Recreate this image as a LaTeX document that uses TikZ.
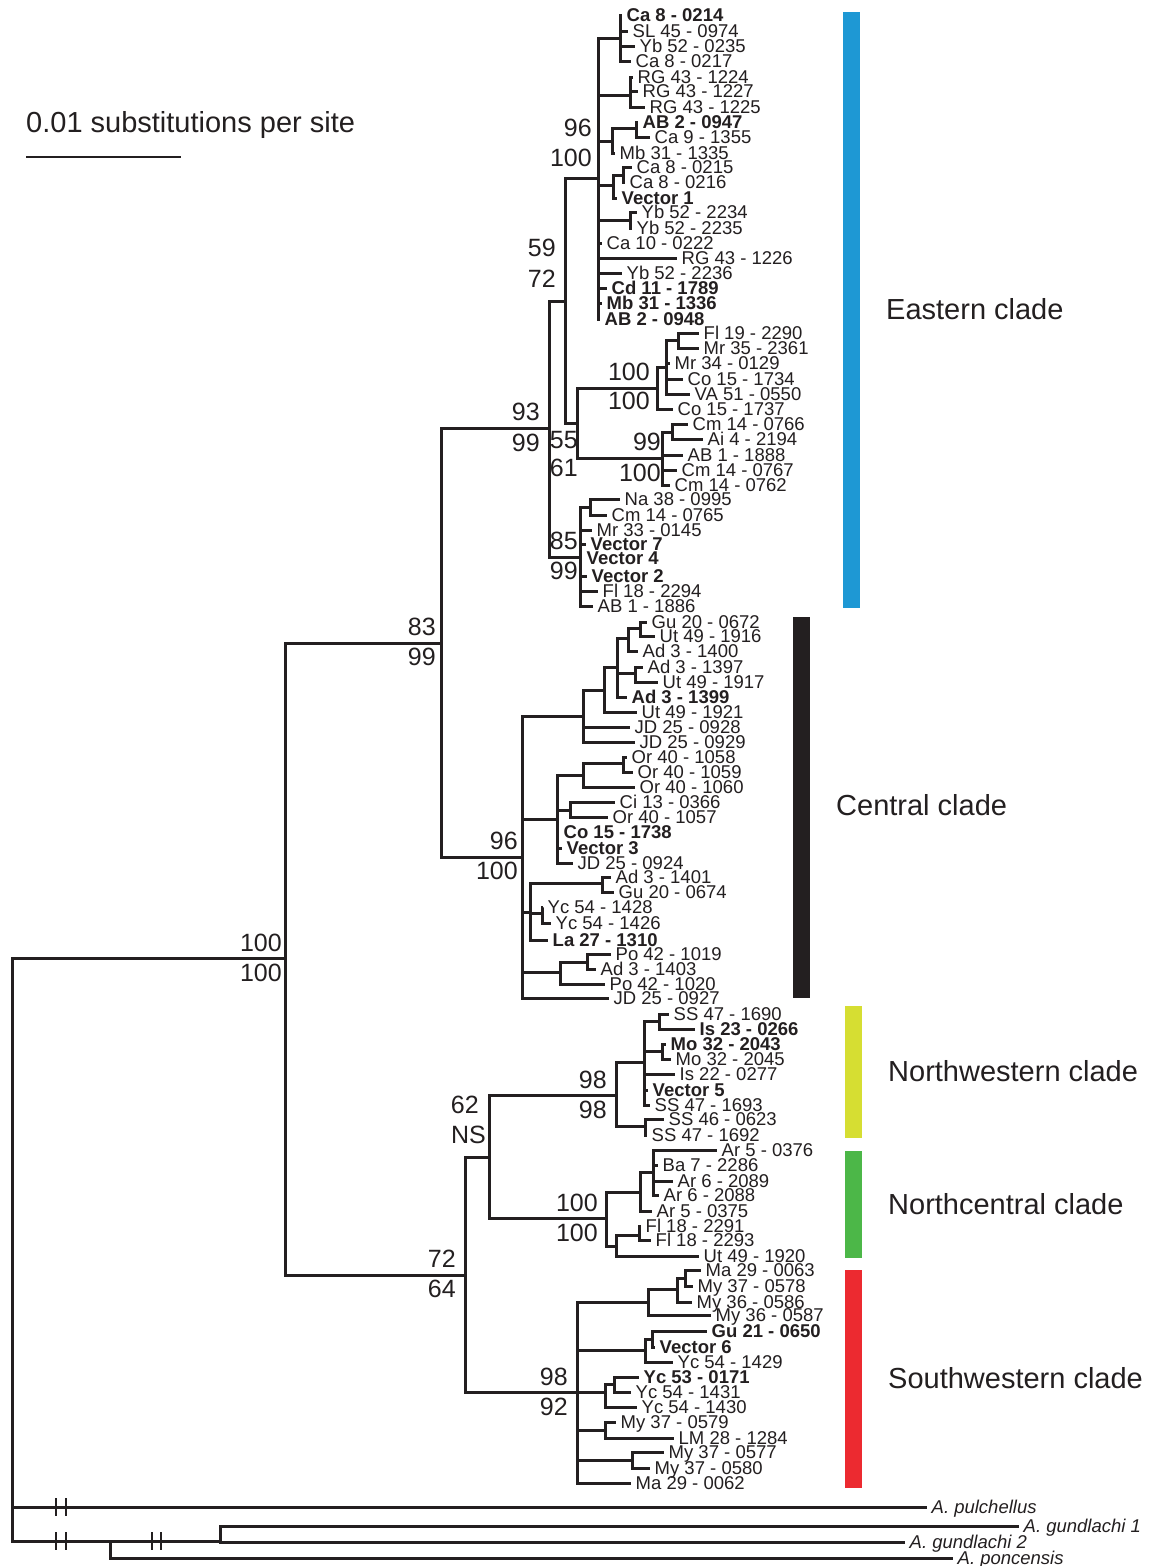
\documentclass[tikz,border=0pt]{standalone}
\usepackage{fontspec}
\setmainfont{Liberation Sans}
\usetikzlibrary{positioning}

\definecolor{treeink}{RGB}{35,31,32}
\definecolor{eastblue}{RGB}{30,152,212}
\definecolor{nwyellow}{RGB}{214,222,50}
\definecolor{ncgreen}{RGB}{76,183,72}
\definecolor{swred}{RGB}{236,42,48}

\newcommand{\leaffont}{\fontsize{18.5}{20}\selectfont}
\newcommand{\bootfont}{\fontsize{25}{27}\selectfont}
\newcommand{\cladefont}{\fontsize{29}{31}\selectfont}

\begin{document}
\begin{tikzpicture}[
        x=1pt, y=-1pt,
        branch/.style={draw=treeink, line width=3pt},
        leaf/.style={anchor=west, inner xsep=4.5pt, inner ysep=0pt, text height=13.2pt, text depth=0pt, font=\leaffont, text=treeink},
        outgrp/.style={leaf, font=\leaffont\itshape},
        boot/.style={anchor=east, inner sep=0pt, text height=17.9pt, text depth=0pt, font=\bootfont, text=treeink},
        clade/.style={anchor=west, inner sep=0pt, text height=20.8pt, text depth=0pt, font=\cladefont, text=treeink},
        brk/.style={draw=treeink, line width=2.6pt},
        scalebar/.style={draw=treeink, line width=2pt}
    ]
    \useasboundingbox (0,0) rectangle (1150,1566);
    \fill[white] (0,0) rectangle (1150,1566);

    % scale
    \node[clade, text height=21pt] (scalelbl) at (26,122) {0.01 substitutions per site};
    \coordinate (sbl) at (26,157);
    \coordinate (sbr) at (181,157);
    \draw[scalebar] (sbl) -- (sbr);

    % clade bars
    \fill[eastblue] (843,12) rectangle (860,608);
    \fill[treeink] (793,617) rectangle (810,998);
    \fill[nwyellow] (845,1006) rectangle (862,1138);
    \fill[ncgreen] (845,1151) rectangle (862,1258);
    \fill[swred] (845,1270) rectangle (862,1488);

    \node[clade] (eastlbl) at (886,309) {Eastern clade};
    \node[clade] (centlbl) at (836,805) {Central clade};
    \node[clade] (nwlbl) at (888,1071) {Northwestern clade};
    \node[clade] (nclbl) at (888,1204) {Northcentral clade};
    \node[clade] (swlbl) at (888,1378) {Southwestern clade};

    % internal nodes
    \foreach \n/\x/\y in {root/12/1250, ingrp/285/958, n83/441/643, n93/549/428, n59/565/301,
        ep/598/178, ea/620/38, eb/630/95, ec/612/141, ed/636/128, ee/613/185, ef/623/175, eg/630/220,
        n55/577/423, eh100/657/388, ei/666/367, ej/678/340, e99/662/458, ek/672/432, n85/580/557, el/590/507,
        cen/522/857, ca/583/716, cb/604/690, cc/617/667, cd/628/638, cf/640/628, ce/635/673,
        cg/557/819, ch/583/775, cj/623/763, ci/570/810, ck/530/912, cl/602/883, cm/542/913, cn/560/972, co/587/962,
        n72/465/1275, n62/489/1157, nw98/616/1095, wa/644/1062, wb/659/1021, wc/662/1051, wd/645/1126,
        nc100/606/1218, na/640/1192, nb/653/1172, nd/616/1246, ne/639/1235,
        sw98/577/1392, sa/648/1302, sb/677/1289, sc/685/1278, sd/645/1350, se/652/1339,
        sf/605/1392, sg/614/1384, sh/605/1430, si/632/1460, og/110/1541, oh/220/1541}
        \coordinate (\n) at (\x,\y);

    % leaves
    \foreach \n/\x/\y/\lbl in {
        e1/622/15/{\textbf{Ca 8 - 0214}}, e2/628/31/SL 45 - 0974, e3/635/46/Yb 52 - 0235, e4/631/61/Ca 8 - 0217,
        e5/633/77/RG 43 - 1224, e6/638/91/RG 43 - 1227, e7/645/107/RG 43 - 1225, e8/638/122/{\textbf{AB 2 - 0947}},
        e9/650/137/Ca 9 - 1355, e10/615/153/Mb 31 - 1335, e11/632/167/Ca 8 - 0215, e12/625/182/Ca 8 - 0216,
        e13/617/198/{\textbf{Vector 1}}, e14/637/212/Yb 52 - 2234, e15/632/228/Yb 52 - 2235, e16/602/243/Ca 10 - 0222,
        e17/677/258/RG 43 - 1226, e18/622/273/Yb 52 - 2236, e19/607/288/{\textbf{Cd 11 - 1789}},
        e20/602/303/{\textbf{Mb 31 - 1336}}, e21/600/319/{\textbf{AB 2 - 0948}}, e22/699/333/Fl 19 - 2290,
        e23/699/348/Mr 35 - 2361, e24/670/363/Mr 34 - 0129, e25/683/379/Co 15 - 1734, e26/690/394/VA 51 - 0550,
        e27/673/409/Co 15 - 1737, e28/688/424/Cm 14 - 0766, e29/703/439/Ai 4 - 2194, e30/683/455/AB 1 - 1888,
        e31/677/470/Cm 14 - 0767, e32/670/485/Cm 14 - 0762, e33/620/499/Na 38 - 0995, e34/607/515/Cm 14 - 0765,
        e35/592/530/Mr 33 - 0145, e36/586/544/{\textbf{Vector 7}}, e37/582/558/{\textbf{Vector 4}},
        e38/587/576/{\textbf{Vector 2}}, e39/598/591/Fl 18 - 2294, e40/593/606/AB 1 - 1886,
        c1/647/622/Gu 20 - 0672, c2/655/636/Ut 49 - 1916, c3/638/651/Ad 3 - 1400, c4/643/667/Ad 3 - 1397,
        c5/658/682/Ut 49 - 1917, c6/627/697/{\textbf{Ad 3 - 1399}}, c7/637/712/Ut 49 - 1921, c8/630/727/JD 25 - 0928,
        c9/635/742/JD 25 - 0929, c10/627/757/Or 40 - 1058, c11/633/772/Or 40 - 1059, c12/635/787/Or 40 - 1060,
        c13/615/802/Ci 13 - 0366, c14/608/817/Or 40 - 1057, c15/559/832/{\textbf{Co 15 - 1738}},
        c16/562/848/{\textbf{Vector 3}}, c17/573/863/JD 25 - 0924, c18/611/877/Ad 3 - 1401, c19/614/892/Gu 20 - 0674,
        c20/543/907/Yc 54 - 1428, c21/551/923/Yc 54 - 1426, c22/548/940/{\textbf{La 27 - 1310}},
        c23/611/954/Po 42 - 1019, c24/596/969/Ad 3 - 1403, c25/605/984/Po 42 - 1020, c26/609/998/JD 25 - 0927,
        w1/669/1014/SS 47 - 1690, w2/695/1029/{\textbf{Is 23 - 0266}}, w3/666/1044/{\textbf{Mo 32 - 2043}},
        w4/671/1059/Mo 32 - 2045, w5/675/1074/Is 22 - 0277, w6/648/1090/{\textbf{Vector 5}}, w7/650/1105/SS 47 - 1693,
        w8/664/1119/SS 46 - 0623, w9/647/1135/SS 47 - 1692,
        n1/717/1150/Ar 5 - 0376, n2/658/1165/Ba 7 - 2286, n3/673/1181/Ar 6 - 2089, n4/659/1195/Ar 6 - 2088,
        n5/652/1211/Ar 5 - 0375, n6/641/1226/Fl 18 - 2291, n7/651/1240/Fl 18 - 2293, n8/699/1256/Ut 49 - 1920,
        s1/701/1270/Ma 29 - 0063, s2/693/1286/My 37 - 0578, s3/692/1302/My 36 - 0586, s4/711/1315/My 36 - 0587,
        s5/707/1331/{\textbf{Gu 21 - 0650}}, s6/655/1347/{\textbf{Vector 6}}, s7/673/1362/Yc 54 - 1429,
        s8/639/1377/{\textbf{Yc 53 - 0171}}, s9/631/1392/Yc 54 - 1431, s10/637/1407/Yc 54 - 1430,
        s11/616/1422/My 37 - 0579, s12/674/1438/LM 28 - 1284, s13/664/1452/My 37 - 0577,
        s14/650/1468/My 37 - 0580, s15/631/1483/Ma 29 - 0062}
        \node[leaf] (\n) at (\x,\y) {\lbl};

    \node[outgrp] (pul) at (927,1507) {A. pulchellus};
    \node[outgrp] (gun1) at (1019,1526) {A. gundlachi 1};
    \node[outgrp] (gun2) at (905,1542) {A. gundlachi 2};
    \node[outgrp] (pon) at (953,1558) {A. poncensis};

    % branches
    \foreach \p/\kids in {root/{ingrp,pul,og}, og/{oh,pon}, oh/{gun1,gun2}, ingrp/{n83,n72},
        n83/{n93,cen}, n93/{n59,n85}, n59/{ep,n55},
        ep/{ea,eb,ec,ee,eg,e16,e17,e18,e19,e20,e21}, ea/{e1,e2,e3,e4}, eb/{e5,e6,e7}, ec/{ed,e10},
        ed/{e8,e9}, ee/{ef,e13}, ef/{e11,e12}, eg/{e14,e15},
        n55/{eh100,e99}, eh100/{ei,e27}, ei/{ej,e24,e25,e26}, ej/{e22,e23}, e99/{ek,e30,e31,e32}, ek/{e28,e29},
        n85/{el,e35,e36,e37,e38,e39,e40}, el/{e33,e34},
        cen/{ca,cg,ck,cn,c26}, ca/{cb,c8,c9}, cb/{cc,c7}, cc/{cd,ce,c6}, cd/{cf,c3}, cf/{c1,c2}, ce/{c4,c5},
        cg/{ch,ci,c15,c16,c17}, ch/{cj,c12}, cj/{c10,c11}, ci/{c13,c14},
        ck/{cl,cm,c22}, cl/{c18,c19}, cm/{c20,c21}, cn/{co,c25}, co/{c23,c24},
        n72/{n62,sw98}, n62/{nw98,nc100}, nw98/{wa,wd}, wa/{wb,wc,w5,w6,w7}, wb/{w1,w2}, wc/{w3,w4}, wd/{w8,w9},
        nc100/{na,nd}, na/{nb,n5}, nb/{n1,n2,n3,n4}, nd/{ne,n8}, ne/{n6,n7},
        sw98/{sa,sd,sf,sh,si,s15}, sa/{sb,s4}, sb/{sc,s3}, sc/{s1,s2}, sd/{se,s7}, se/{s5,s6},
        sf/{sg,s10}, sg/{s8,s9}, sh/{s11,s12}, si/{s13,s14}}
        \foreach \c in \kids
            \draw[branch] (\p) |- (\c);

    % long branch breaks
    \foreach \bx/\by in {56/1507, 66/1507, 56/1541, 66/1541, 152/1541, 161/1541}
        \draw[brk] (\bx,\by-9) -- (\bx,\by+9);

    % support values
    \foreach \n/\x/\y/\lbl in {sup1/592/128/96, sup2/592/158/100, sup3/556/248/59, sup4/556/279/72,
        sup5/540/412/93, sup6/540/443/99, sup7/650/372/100, sup8/650/401/100,
        sup9/578/440/55, sup10/578/468/61, sup11/661/442/99, sup12/661/473/100,
        sup13/578/541/85, sup14/578/571/99, sup15/436/627/83, sup16/436/657/99,
        sup17/518/841/96, sup18/518/871/100, sup19/282/943/100, sup20/282/973/100,
        sup21/607/1080/98, sup22/607/1110/98, sup23/479/1105/62, sup24/486/1135/NS,
        sup25/598/1203/100, sup26/598/1233/100, sup27/456/1259/72, sup28/456/1289/64,
        sup29/568/1377/98, sup30/568/1407/92}
        \node[boot] (\n) at (\x,\y) {\lbl};
\end{tikzpicture}
\end{document}
